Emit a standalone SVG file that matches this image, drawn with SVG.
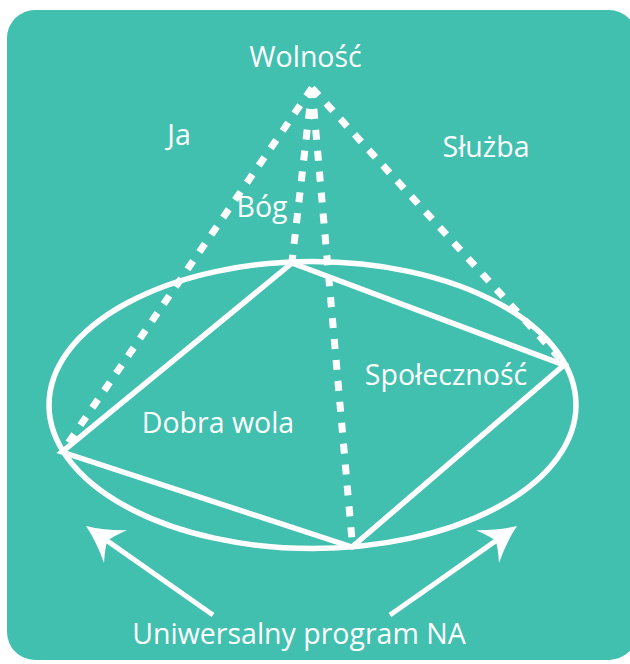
<svg xmlns="http://www.w3.org/2000/svg" width="630" height="664" viewBox="0 0 630 664">
<style>
.t{font-family:"Open Sans","Liberation Sans",sans-serif;font-size:28.5px;fill:#fff;text-anchor:middle}
.solid{stroke:#fff;stroke-width:5.5;fill:none;stroke-linecap:round}
.dot{stroke:#fff;stroke-width:7;fill:none;stroke-dasharray:10 11}
.arr{stroke:#fff;stroke-width:5;fill:none}
</style>
<defs>
<marker id="ah" markerUnits="userSpaceOnUse" viewBox="0 0 40 40" refX="10" refY="20" markerWidth="40" markerHeight="40" orient="auto">
<path d="M36,20 Q18,13 0,0 Q8,13 10,20 Q8,27 0,40 Q18,27 36,20 Z" fill="#fff"/>
</marker>
</defs>
<rect id="bg" x="7" y="10" width="630" height="650" rx="28" fill="#41BFAF"/>
<g id="connectors">
<ellipse cx="312.5" cy="405" rx="263.5" ry="143.5" class="solid"/>
<polyline points="292,263 564,365 352,547 62,452 292,263" class="solid" stroke-linejoin="miter"/>
<line x1="312" y1="88" x2="62" y2="452" class="dot"/>
<line x1="312" y1="88" x2="292" y2="262" class="dot"/>
<line x1="312" y1="88" x2="352" y2="540" class="dot"/>
<line x1="312" y1="88" x2="564" y2="363" class="dot"/>
<line x1="213" y1="615" x2="107.3" y2="540.9" class="arr" marker-end="url(#ah)"/>
<line x1="390" y1="615" x2="495.7" y2="540.9" class="arr" marker-end="url(#ah)"/>
</g>
<g id="n-wolnosc"><text class="t" x="305.5" y="67">Wolność</text></g>
<g id="n-ja"><text class="t" x="179" y="145">Ja</text></g>
<g id="n-sluzba"><text class="t" x="486" y="157">Służba</text></g>
<g id="n-bog"><text class="t" x="262" y="217">Bóg</text></g>
<g id="n-spolecznosc"><text class="t" x="446" y="385">Społeczność</text></g>
<g id="n-dobra"><text class="t" x="218" y="433">Dobra wola</text></g>
<g id="n-program"><text class="t" x="299" y="644">Uniwersalny program NA</text></g>
</svg>
